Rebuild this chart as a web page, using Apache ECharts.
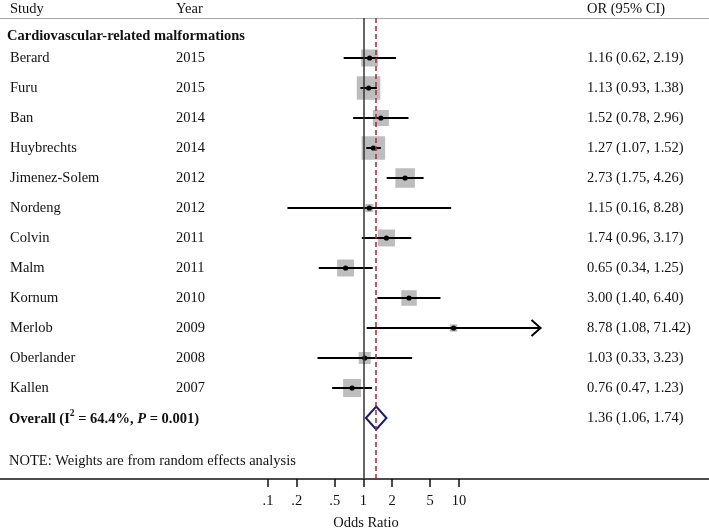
<!DOCTYPE html>
<html>
<head>
<meta charset="utf-8">
<script src="https://cdn.jsdelivr.net/npm/echarts@6/dist/echarts.min.js"></script>
<style>html,body{margin:0;padding:0;background:#fff}#c{width:709px;height:530px}</style>
</head>
<body>
<div id="c"></div>
<script>
// ---- data ----
const studies = ['Berard','Furu','Ban','Huybrechts','Jimenez-Solem','Nordeng','Colvin','Malm','Kornum','Merlob','Oberlander','Kallen'];
const years = [2015,2015,2014,2014,2012,2012,2011,2011,2010,2009,2008,2007];
const orValues = [1.16,1.13,1.52,1.27,2.73,1.15,1.74,0.65,3.00,8.78,1.03,0.76];
const ciLower = [0.62,0.93,0.78,1.07,1.75,0.16,0.96,0.34,1.40,1.08,0.33,0.47];
const ciUpper = [2.19,1.38,2.96,1.52,4.26,8.28,3.17,1.25,6.40,71.42,3.23,1.23];
const weights = [8.4,16.1,7.5,16.1,11.1,1.9,8.4,8.4,7.0,1.6,4.2,9.4];
const overallOR = 1.36, overallLower = 1.06, overallUpper = 1.74;
const overallI2 = '64.4%', overallP = '0.001';
const tickValues = [0.1,0.2,0.5,1,2,5,10];
const tickLabels = ['.1','.2','.5','1','2','5','10'];
const groupTitle = 'Cardiovascular-related malformations';
const noteText = 'NOTE: Weights are from random effects analysis';

// ---- layout ----
const FONT = '"Liberation Serif","Times New Roman",serif';
const FS = 14.5;
const TXT = '#111';
const X_MIN = -3.806, X_MAX = 3.618;   // log10 axis range
const squareScale = 5.86;
const tickLogs = tickValues.map(v => Math.log10(v));
const maxTick = Math.max(...tickValues);
const fmtCI = (o, l, h) => o.toFixed(2) + ' (' + l.toFixed(2) + ', ' + h.toFixed(2) + ')';
const COL_STUDY = 10, COL_YEAR = 176, COL_CI = 587;

const mctx = document.createElement('canvas').getContext('2d');
function textWidth(text, weight, style, size) {
  mctx.font = (style || 'normal') + ' ' + (weight || 'normal') + ' ' + size + 'px ' + FONT;
  return mctx.measureText(text).width;
}

const chart = echarts.init(document.getElementById('c'), null, {renderer: 'canvas'});

function textEl(x, y, text, extra) {
  return {type: 'text', style: Object.assign({x: x, y: y, text: text, fontFamily: FONT, fontSize: FS, fill: TXT, align: 'left', verticalAlign: 'middle'}, extra || {})};
}

function renderSquares(params, api) {
  const i = params.dataIndex;
  const c = api.coord([Math.log10(orValues[i]), i + 1]);
  const s = squareScale * Math.sqrt(weights[i]);
  return {type: 'rect', shape: {x: c[0] - s / 2, y: c[1] - s / 2, width: s, height: s}, style: {fill: '#bdbdbd'}};
}

function renderStudy(params, api) {
  const i = params.dataIndex;
  const row = i + 1;
  const c = api.coord([Math.log10(orValues[i]), row]);
  const l = api.coord([Math.log10(ciLower[i]), row]);
  const h = api.coord([Math.log10(ciUpper[i]), row]);
  const y = c[1];
  const children = [
    {type: 'line', shape: {x1: l[0], y1: y, x2: h[0], y2: y}, style: {stroke: '#000', lineWidth: 2}},
    {type: 'circle', shape: {cx: c[0], cy: y, r: 2.6}, style: {fill: '#000'}},
    textEl(COL_STUDY, y, studies[i]),
    textEl(COL_YEAR, y, String(years[i])),
    textEl(COL_CI, y, fmtCI(orValues[i], ciLower[i], ciUpper[i]))
  ];
  if (ciUpper[i] > maxTick) {
    children.push({type: 'polyline', shape: {points: [[h[0] - 9, y - 8], [h[0], y], [h[0] - 9, y + 8]]}, style: {stroke: '#000', lineWidth: 2, fill: null}});
  }
  return {type: 'group', children: children};
}

function renderOverall(params, api) {
  const row = studies.length + 1;
  const c = api.coord([Math.log10(overallOR), row]);
  const l = api.coord([Math.log10(overallLower), row]);
  const h = api.coord([Math.log10(overallUpper), row]);
  const y = c[1], hh = 11.5;
  // label pieces: "Overall (I" + sup "2" + " = 64.4%, " + italic "P" + " = 0.001)"
  const parts = [
    {t: 'Overall (I', size: FS, style: 'normal', dy: 0},
    {t: '2', size: 9.5, style: 'normal', dy: -5},
    {t: ' = ' + overallI2 + ', ', size: FS, style: 'normal', dy: 0},
    {t: 'P', size: FS, style: 'italic', dy: 0},
    {t: ' = ' + overallP + ')', size: FS, style: 'normal', dy: 0}
  ];
  const children = [
    {type: 'polygon', shape: {points: [[l[0], y], [c[0], y - hh], [h[0], y], [c[0], y + hh]]}, style: {stroke: '#1c1c6b', lineWidth: 2, fill: 'rgba(0,0,0,0)'}},
    textEl(COL_CI, y, fmtCI(overallOR, overallLower, overallUpper))
  ];
  let x = 9;
  parts.forEach(p => {
    children.push(textEl(x, y + 1 + p.dy, p.t, {fontSize: p.size, fontWeight: 'bold', fontStyle: p.style}));
    x += textWidth(p.t, 'bold', p.style, p.size);
  });
  return {type: 'group', children: children};
}

const option = {
  animation: false,
  backgroundColor: '#fff',
  grid: {left: 0, right: 0, top: 18, bottom: 51, containLabel: false},
  xAxis: [{
    type: 'value', min: X_MIN, max: X_MAX, position: 'bottom',
    axisLine: {show: true, onZero: false, lineStyle: {color: '#111', width: 1.5}},
    splitLine: {show: false},
    axisTick: {show: true, length: 8, inside: false, lineStyle: {color: '#111', width: 1.5}, customValues: tickLogs},
    axisLabel: {show: true, customValues: tickLogs, margin: 15, fontFamily: FONT, fontSize: FS, color: TXT,
      formatter: v => { const k = tickLogs.findIndex(t => Math.abs(t - v) < 1e-6); return k >= 0 ? tickLabels[k] : ''; }}
  }, {
    type: 'value', min: X_MIN, max: X_MAX, position: 'top',
    axisLine: {show: true, onZero: false, lineStyle: {color: '#a6a6a6', width: 1}},
    axisTick: {show: false}, axisLabel: {show: false}, splitLine: {show: false}
  }],
  yAxis: {type: 'value', inverse: true, min: -1 / 3, max: 15.0333, show: false},
  series: [
    {type: 'line', data: [], z: 1, silent: true,
      markLine: {silent: true, symbol: 'none', label: {show: false}, lineStyle: {color: '#333', width: 1.5, type: 'solid'}, data: [{xAxis: 0}]}},
    {type: 'custom', z: 2, silent: true, renderItem: renderSquares, data: orValues.map((v, i) => [Math.log10(v), i + 1])},
    {type: 'line', data: [], z: 3, silent: true,
      markLine: {silent: true, symbol: 'none', label: {show: false}, lineStyle: {color: '#a52a3a', width: 1.5, type: [5, 3]}, data: [{xAxis: Math.log10(overallOR)}]}},
    {type: 'custom', z: 4, silent: true, renderItem: renderStudy, data: orValues.map((v, i) => [Math.log10(v), i + 1])},
    {type: 'custom', z: 4, silent: true, renderItem: renderOverall, data: [[Math.log10(overallOR), studies.length + 1]]}
  ],
  graphic: [
    {type: 'text', style: {x: COL_STUDY, y: 9, text: 'Study', fontFamily: FONT, fontSize: FS, fill: TXT, align: 'left', verticalAlign: 'middle'}},
    {type: 'text', style: {x: COL_YEAR, y: 9, text: 'Year', fontFamily: FONT, fontSize: FS, fill: TXT, align: 'left', verticalAlign: 'middle'}},
    {type: 'text', style: {x: COL_CI, y: 9, text: 'OR (95% CI)', fontFamily: FONT, fontSize: FS, fill: TXT, align: 'left', verticalAlign: 'middle'}},
    {type: 'text', style: {x: 7, y: 36, text: groupTitle, fontFamily: FONT, fontSize: FS, fontWeight: 'bold', fill: TXT, align: 'left', verticalAlign: 'middle'}},
    {type: 'text', style: {x: 9, y: 461, text: noteText, fontFamily: FONT, fontSize: FS, fill: TXT, align: 'left', verticalAlign: 'middle'}},
    {type: 'text', style: {x: 366, y: 523, text: 'Odds Ratio', fontFamily: FONT, fontSize: FS, fill: TXT, align: 'center', verticalAlign: 'middle'}}
  ]
};
chart.setOption(option);
</script>
</body>
</html>
